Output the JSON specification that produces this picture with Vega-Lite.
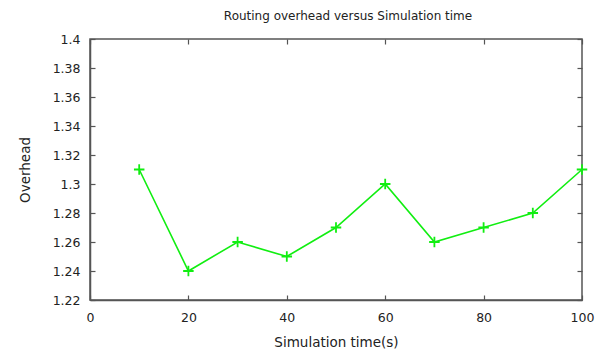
{
  "$schema": "https://vega.github.io/schema/vega-lite/v6.json",
  "width": 492,
  "height": 261,
  "autosize": {"type": "none"},
  "padding": {"left": 90, "top": 39, "right": 26, "bottom": 49},
  "background": "white",
  "config": {
    "font": "DejaVu Sans",
    "view": {"stroke": "#555555", "strokeWidth": 1.5},
    "axis": {
      "grid": false,
      "domainColor": "#555555",
      "domainWidth": 1.5,
      "tickColor": "#555555",
      "tickWidth": 1.2,
      "labelColor": "#222222",
      "labelFontSize": 12.5,
      "labelFlush": false,
      "titleColor": "#222222",
      "titleFontSize": 13.5,
      "titleFontWeight": "normal"
    }
  },
  "title": {
    "text": "Routing overhead versus Simulation time",
    "fontSize": 12,
    "fontWeight": "normal",
    "color": "#222222",
    "offset": 10,
    "dx": 12
  },
  "data": {
    "values": [
      {"time": 10, "overhead": 1.31},
      {"time": 20, "overhead": 1.24},
      {"time": 30, "overhead": 1.26},
      {"time": 40, "overhead": 1.25},
      {"time": 50, "overhead": 1.27},
      {"time": 60, "overhead": 1.30},
      {"time": 70, "overhead": 1.26},
      {"time": 80, "overhead": 1.27},
      {"time": 90, "overhead": 1.28},
      {"time": 100, "overhead": 1.31}
    ]
  },
  "layer": [
    {
      "mark": {"type": "point", "opacity": 0},
      "encoding": {
        "x": {
          "field": "time",
          "type": "quantitative",
          "scale": {"domain": [0, 100], "nice": false, "zero": false},
          "axis": {
            "orient": "top",
            "title": null,
            "labels": false,
            "domain": false,
            "values": [0, 20, 40, 60, 80, 100],
            "tickSize": -5
          }
        },
        "y": {
          "field": "overhead",
          "type": "quantitative",
          "scale": {"domain": [1.22, 1.4], "nice": false, "zero": false},
          "axis": {
            "orient": "right",
            "title": null,
            "labels": false,
            "domain": false,
            "values": [1.22, 1.24, 1.26, 1.28, 1.3, 1.32, 1.34, 1.36, 1.38, 1.4],
            "tickSize": -5
          }
        }
      }
    },
    {
      "encoding": {
        "x": {
          "field": "time",
          "type": "quantitative",
          "scale": {"domain": [0, 100], "nice": false, "zero": false},
          "axis": {
            "orient": "bottom",
            "title": "Simulation time(s)",
            "values": [0, 20, 40, 60, 80, 100],
            "tickSize": -5,
            "labelPadding": 16,
            "titlePadding": 12
          }
        },
        "y": {
          "field": "overhead",
          "type": "quantitative",
          "scale": {"domain": [1.22, 1.4], "nice": false, "zero": false},
          "axis": {
            "orient": "left",
            "title": "Overhead",
            "values": [1.22, 1.24, 1.26, 1.28, 1.3, 1.32, 1.34, 1.36, 1.38, 1.4],
            "format": "~g",
            "tickSize": -5,
            "labelPadding": 15,
            "titlePadding": 20
          }
        }
      },
      "layer": [
        {
          "mark": {"type": "line", "color": "#11ee11", "strokeWidth": 1.6}
        },
        {
          "mark": {
            "type": "point",
            "shape": "M-1,0L1,0M0,-1L0,1",
            "filled": false,
            "color": "#11ee11",
            "strokeWidth": 1.8,
            "size": 110,
            "opacity": 1
          }
        }
      ]
    }
  ],
  "resolve": {"axis": {"x": "independent", "y": "independent"}}
}
